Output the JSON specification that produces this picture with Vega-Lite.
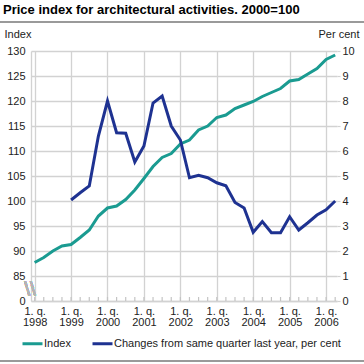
{
  "$schema": "https://vega.github.io/schema/vega-lite/v6.json",
  "width": 306,
  "height": 250,
  "autosize": "none",
  "padding": {"left": 31, "top": 51, "right": 27, "bottom": 63},
  "title": {"text": "Price index for architectural activities. 2000=100", "anchor": "start", "frame": "group", "fontSize": 13, "fontWeight": "bold", "color": "#000", "dx": -28, "font": "Liberation Sans"},
  "data": {"values": [
    {"t": 1998, "series": "Index", "value": 87.7},
    {"t": 1998.25, "series": "Index", "value": 88.7},
    {"t": 1998.5, "series": "Index", "value": 90.0},
    {"t": 1998.75, "series": "Index", "value": 91.0},
    {"t": 1999, "series": "Index", "value": 91.3},
    {"t": 1999.25, "series": "Index", "value": 92.7},
    {"t": 1999.5, "series": "Index", "value": 94.2},
    {"t": 1999.75, "series": "Index", "value": 97.0},
    {"t": 2000, "series": "Index", "value": 98.6},
    {"t": 2000.25, "series": "Index", "value": 99.0},
    {"t": 2000.5, "series": "Index", "value": 100.3},
    {"t": 2000.75, "series": "Index", "value": 102.2},
    {"t": 2001, "series": "Index", "value": 104.5},
    {"t": 2001.25, "series": "Index", "value": 106.9},
    {"t": 2001.5, "series": "Index", "value": 108.7},
    {"t": 2001.75, "series": "Index", "value": 109.5},
    {"t": 2002, "series": "Index", "value": 111.4},
    {"t": 2002.25, "series": "Index", "value": 112.2},
    {"t": 2002.5, "series": "Index", "value": 114.2},
    {"t": 2002.75, "series": "Index", "value": 115.0},
    {"t": 2003, "series": "Index", "value": 116.7},
    {"t": 2003.25, "series": "Index", "value": 117.2},
    {"t": 2003.5, "series": "Index", "value": 118.5},
    {"t": 2003.75, "series": "Index", "value": 119.2},
    {"t": 2004, "series": "Index", "value": 119.9},
    {"t": 2004.25, "series": "Index", "value": 120.9},
    {"t": 2004.5, "series": "Index", "value": 121.7},
    {"t": 2004.75, "series": "Index", "value": 122.5},
    {"t": 2005, "series": "Index", "value": 124.0},
    {"t": 2005.25, "series": "Index", "value": 124.3},
    {"t": 2005.5, "series": "Index", "value": 125.4},
    {"t": 2005.75, "series": "Index", "value": 126.5},
    {"t": 2006, "series": "Index", "value": 128.3},
    {"t": 2006.25, "series": "Index", "value": 129.2},
    {"t": 1999, "series": "Changes from same quarter last year, per cent", "value": 4.04},
    {"t": 1999.25, "series": "Changes from same quarter last year, per cent", "value": 4.33},
    {"t": 1999.5, "series": "Changes from same quarter last year, per cent", "value": 4.6},
    {"t": 1999.75, "series": "Changes from same quarter last year, per cent", "value": 6.6},
    {"t": 2000, "series": "Changes from same quarter last year, per cent", "value": 8.0},
    {"t": 2000.25, "series": "Changes from same quarter last year, per cent", "value": 6.73},
    {"t": 2000.5, "series": "Changes from same quarter last year, per cent", "value": 6.71},
    {"t": 2000.75, "series": "Changes from same quarter last year, per cent", "value": 5.56},
    {"t": 2001, "series": "Changes from same quarter last year, per cent", "value": 6.2},
    {"t": 2001.25, "series": "Changes from same quarter last year, per cent", "value": 7.92},
    {"t": 2001.5, "series": "Changes from same quarter last year, per cent", "value": 8.2},
    {"t": 2001.75, "series": "Changes from same quarter last year, per cent", "value": 7.0},
    {"t": 2002, "series": "Changes from same quarter last year, per cent", "value": 6.44},
    {"t": 2002.25, "series": "Changes from same quarter last year, per cent", "value": 4.93},
    {"t": 2002.5, "series": "Changes from same quarter last year, per cent", "value": 5.03},
    {"t": 2002.75, "series": "Changes from same quarter last year, per cent", "value": 4.93},
    {"t": 2003, "series": "Changes from same quarter last year, per cent", "value": 4.73},
    {"t": 2003.25, "series": "Changes from same quarter last year, per cent", "value": 4.61},
    {"t": 2003.5, "series": "Changes from same quarter last year, per cent", "value": 3.94},
    {"t": 2003.75, "series": "Changes from same quarter last year, per cent", "value": 3.72},
    {"t": 2004, "series": "Changes from same quarter last year, per cent", "value": 2.75},
    {"t": 2004.25, "series": "Changes from same quarter last year, per cent", "value": 3.18},
    {"t": 2004.5, "series": "Changes from same quarter last year, per cent", "value": 2.73},
    {"t": 2004.75, "series": "Changes from same quarter last year, per cent", "value": 2.73},
    {"t": 2005, "series": "Changes from same quarter last year, per cent", "value": 3.37},
    {"t": 2005.25, "series": "Changes from same quarter last year, per cent", "value": 2.84},
    {"t": 2005.5, "series": "Changes from same quarter last year, per cent", "value": 3.13},
    {"t": 2005.75, "series": "Changes from same quarter last year, per cent", "value": 3.44},
    {"t": 2006, "series": "Changes from same quarter last year, per cent", "value": 3.65},
    {"t": 2006.25, "series": "Changes from same quarter last year, per cent", "value": 4.0}
  ]},
  "config": {
    "font": "Liberation Sans",
    "view": {"stroke": null},
    "axis": {"labelFontSize": 11, "labelColor": "#222", "titleColor": "#222", "titleFontSize": 11, "titleFontWeight": "normal", "gridColor": "#d2d2d2", "gridWidth": 1.3, "domainColor": "#d2d2d2", "domainWidth": 1.3, "tickColor": "#c8c8c8", "tickWidth": 1.2}
  },
  "layer": [
    {
      "transform": [{"filter": "datum.series === 'Index'"}],
      "mark": {"type": "rule", "color": "#c4c4c4", "strokeWidth": 1.2},
      "encoding": {
        "x": {"field": "t", "type": "quantitative", "scale": {"domain": [1997.9, 2006.3], "nice": false, "zero": false},
          "axis": {"values": [1998, 1999, 2000, 2001, 2002, 2003, 2004, 2005, 2006],
            "labelExpr": "['1. q.', format(datum.value, 'd')]",
            "grid": true, "tickSize": 0, "labelOverlap": false, "labelPadding": 4, "labelLineHeight": 11, "labelBaseline": "top", "labelFlush": false, "title": null}},
        "y": {"datum": 0, "type": "quantitative", "scale": {"domain": [0, 10], "nice": false}, "axis": null},
        "y2": {"datum": 0.16}
      }
    },
    {
      "transform": [{"filter": "datum.series === 'Index'"}],
      "mark": {"type": "line", "strokeWidth": 3},
      "encoding": {
        "x": {"field": "t", "type": "quantitative", "scale": {"domain": [1997.9, 2006.3], "nice": false, "zero": false}, "axis": null},
        "y": {"field": "value", "type": "quantitative", "scale": {"domain": [80, 130], "nice": false, "zero": false},
          "axis": {"orient": "left", "values": [80, 85, 90, 95, 100, 105, 110, 115, 120, 125, 130], "labelExpr": "datum.value === 80 ? '0' : datum.label", "title": "Index", "titleAngle": 0, "titleAlign": "left", "titleBaseline": "alphabetic", "titleX": -27, "titleY": -14, "grid": true, "tickSize": 0, "labelPadding": 6}},
        "color": {"field": "series", "type": "nominal", "scale": {"domain": ["Index", "Changes from same quarter last year, per cent"], "range": ["#1a9b91", "#1e3291"]},
          "legend": {"orient": "none", "legendX": -10, "legendY": 281, "direction": "horizontal", "title": null, "symbolType": "stroke", "symbolStrokeWidth": 3, "symbolSize": 400, "labelFontSize": 11, "labelColor": "#222", "labelLimit": 300, "columnPadding": 15, "labelOffset": 0}}
      }
    },
    {
      "transform": [{"filter": "datum.series !== 'Index'"}],
      "mark": {"type": "line", "strokeWidth": 3},
      "encoding": {
        "x": {"field": "t", "type": "quantitative", "scale": {"domain": [1997.9, 2006.3], "nice": false, "zero": false}, "axis": null},
        "y": {"field": "value", "type": "quantitative", "scale": {"domain": [0, 10], "nice": false},
          "axis": {"orient": "right", "values": [0, 1, 2, 3, 4, 5, 6, 7, 8, 9, 10], "grid": false, "domain": false, "tickSize": 3, "tickColor": "#d2d2d2", "labelPadding": 2, "title": "Per cent", "titleAngle": 0, "titleAlign": "right", "titleBaseline": "alphabetic", "titleX": 22, "titleY": -14}},
        "color": {"field": "series", "type": "nominal"}
      }
    },
    {
      "mark": {"type": "text", "text": "\\\\", "fontSize": 17, "color": "#b4b4b4", "font": "DejaVu Sans", "dx": -1},
      "encoding": {
        "x": {"datum": 1997.9, "type": "quantitative", "scale": {"domain": [1997.9, 2006.3], "nice": false, "zero": false}, "axis": null},
        "y": {"datum": 0.5, "type": "quantitative", "scale": {"domain": [0, 10], "nice": false}, "axis": null}
      }
    },
    {
      "mark": {"type": "rule", "color": "#9a9a9a", "strokeWidth": 1.5},
      "encoding": {
        "x": {"datum": 1997.05, "type": "quantitative", "scale": {"domain": [1997.9, 2006.3], "nice": false, "zero": false}, "axis": null},
        "x2": {"datum": 2007.1},
        "y": {"datum": 11.16, "type": "quantitative", "scale": {"domain": [0, 10], "nice": false}, "axis": null}
      }
    },
    {
      "mark": {"type": "rule", "color": "#9a9a9a", "strokeWidth": 1.5},
      "encoding": {
        "x": {"datum": 1997.05, "type": "quantitative", "scale": {"domain": [1997.9, 2006.3], "nice": false, "zero": false}, "axis": null},
        "x2": {"datum": 2007.1},
        "y": {"datum": -2.4, "type": "quantitative", "scale": {"domain": [0, 10], "nice": false}, "axis": null}
      }
    }
  ],
  "resolve": {"scale": {"y": "independent"}, "axis": {"x": "independent"}}
}
